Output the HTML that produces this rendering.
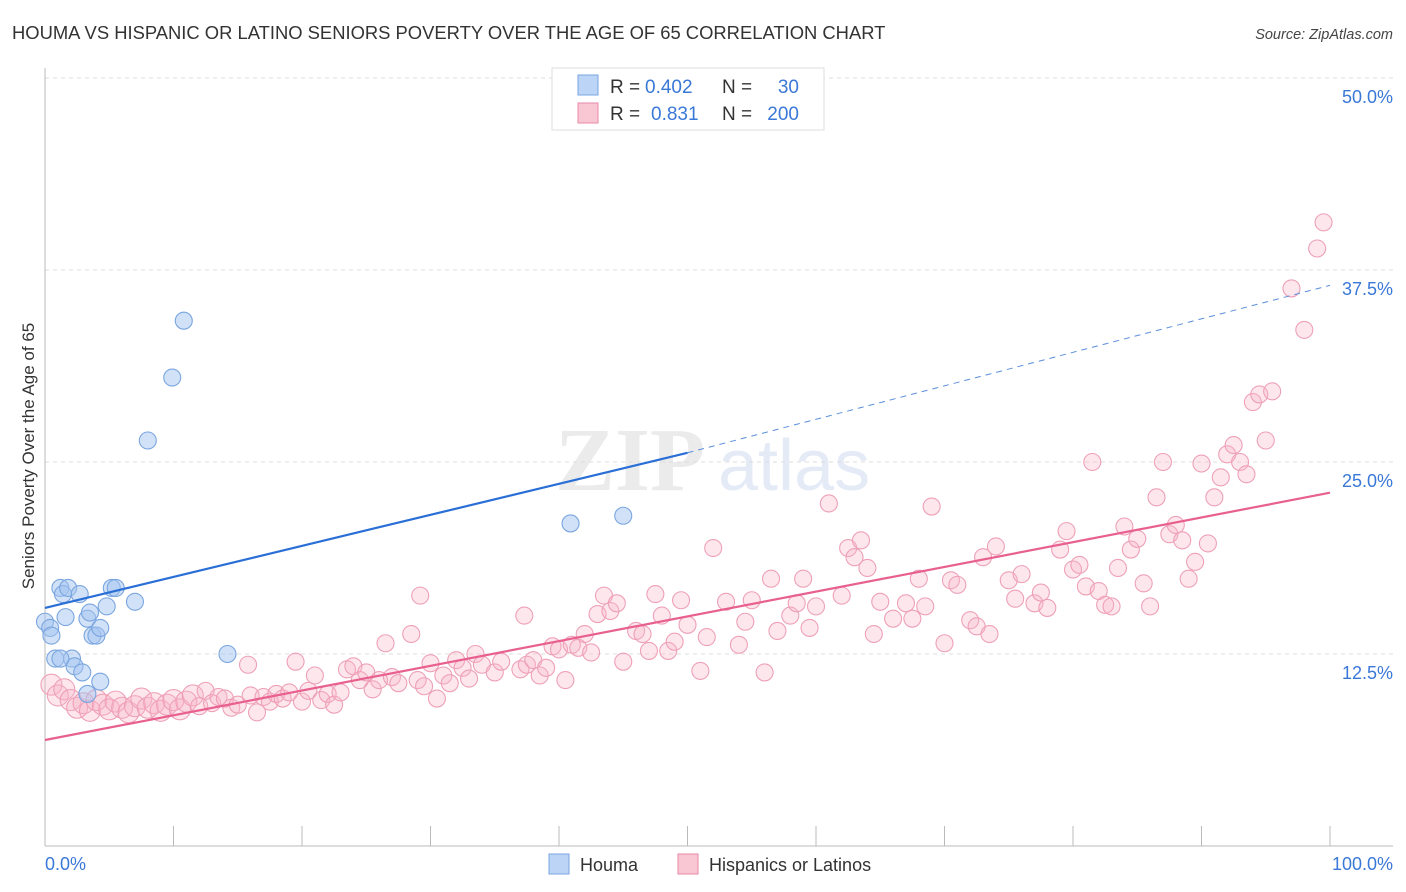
<!DOCTYPE html>
<html><head><meta charset="utf-8"><style>
body{margin:0;background:#fff;font-family:"Liberation Sans",sans-serif;}
svg{display:block}
</style></head><body>
<svg id="chart" width="1406" height="892" xmlns="http://www.w3.org/2000/svg">
<text x="12" y="39" font-size="18.4" fill="#333">HOUMA VS HISPANIC OR LATINO SENIORS POVERTY OVER THE AGE OF 65 CORRELATION CHART</text>
<text x="1393" y="39" font-size="14.5" fill="#444" font-style="italic" text-anchor="end">Source: ZipAtlas.com</text>
<g opacity="0.35">
<text x="555" y="490" font-size="90" fill="#c8c8c8" font-family="Liberation Serif,serif" font-weight="bold">ZIP</text>
<text x="718" y="490" font-size="72" fill="#b5c8e8">atlas</text>
</g>
<g id="grid"></g>
<g id="axes"></g>
<g id="pinkpts"></g>
<g id="bluepts"></g>
<g id="lines"></g>
<text transform="translate(34,456) rotate(-90)" font-size="17" fill="#333" text-anchor="middle">Seniors Poverty Over the Age of 65</text>
<g>
<rect x="552" y="68" width="272" height="62" fill="#fff" stroke="#ddd"/>
<rect x="578" y="75" width="20" height="20" fill="#bcd4f6" stroke="#7aa6e0"/>
<rect x="578" y="103" width="20" height="20" fill="#f9c6d4" stroke="#e88aa8"/>
<text x="610" y="93" font-size="19" fill="#333">R = </text>
<text x="645" y="93" font-size="19" fill="#3a78d8">0.402</text>
<text x="722" y="93" font-size="19" fill="#333">N =</text>
<text x="799" y="93" font-size="19" fill="#3a78d8" text-anchor="end">30</text>
<text x="610" y="120" font-size="19" fill="#333">R = </text>
<text x="651" y="120" font-size="19" fill="#3a78d8">0.831</text>
<text x="722" y="120" font-size="19" fill="#333">N =</text>
<text x="799" y="120" font-size="19" fill="#3a78d8" text-anchor="end">200</text>
</g>
<g>
<rect x="549" y="854" width="20" height="20" fill="#bcd4f6" stroke="#7aa6e0"/>
<text x="580" y="871" font-size="18" fill="#333">Houma</text>
<rect x="678" y="854" width="20" height="20" fill="#f9c6d4" stroke="#e88aa8"/>
<text x="709" y="871" font-size="18" fill="#333">Hispanics or Latinos</text>
</g>
</svg>
<script>
const yTicks=[12.5,25,37.5,50];
const yTickLabels=["12.5%","25.0%","37.5%","50.0%"];
const xTickLabels=["0.0%","100.0%"];
const houmaX=[0,0.4,0.5,0.8,1.2,1.4,1.8,2.1,2.3,2.7,2.9,3.3,3.5,3.7,4.0,4.3,4.3,4.8,5.2,5.5,7.0,8.0,9.9,10.8,14.2,40.9,45.0,1.2,1.6,3.3];
const houmaY=[14.6,14.2,13.7,12.2,16.8,16.4,16.8,12.2,11.7,16.4,11.3,14.8,15.2,13.7,13.7,14.2,10.7,15.6,16.8,16.8,15.9,26.4,30.5,34.2,12.5,21.0,21.5,12.2,14.9,9.9];
const hispX=[0.5,1,1.5,2,2.5,3,3.5,4,4.5,5,5.5,6,6.5,7,7.5,8,8.5,9,9.5,10,10.5,11,11.5,12,12.5,13,13.5,14,14.5,15,15.8,16,16.5,17,17.5,18,18.5,19,19.5,20,20.5,21,21.5,22,22.5,23,23.5,24,24.5,25,25.5,26,26.5,27,27.5,29.2,28.5,29,29.5,30,30.5,31,31.5,32,32.5,33,33.5,34,35,35.5,37.3,37,37.5,38,38.5,39,39.5,40,40.5,41,41.5,42,42.5,43,43.5,44,44.5,45,46,46.5,47,47.5,48,48.5,49,49.5,50,51,51.5,52,53,54,54.5,55,56,56.5,57,58,58.5,59,59.5,60,61,62,62.5,63,63.5,64,64.5,65,66,67,67.5,68,68.5,69,70,70.5,71,72,72.5,73,73.5,74,75,75.5,76,77,77.5,78,79,79.5,80,80.5,81,81.5,82,82.5,83,83.5,84,84.5,85,85.5,86,86.5,87,87.5,88,88.5,89,89.5,90,90.5,91,91.5,92,92.5,93,93.5,94,94.5,95,95.5,97,98,99,99.5];
const hispY=[10.5,9.8,10.2,9.5,9.0,9.3,8.8,9.5,9.2,8.9,9.4,9.0,8.7,9.1,9.6,9.0,9.3,8.8,9.2,9.5,8.9,9.4,9.8,9.1,10.1,9.3,9.7,9.6,9.0,9.2,11.8,9.8,8.7,9.7,9.4,9.9,9.6,10.0,12.0,9.4,10.1,11.1,9.5,9.9,9.2,10.0,11.5,11.7,10.8,11.3,10.2,10.8,13.2,11.0,10.6,16.3,13.8,10.8,10.4,11.9,9.6,11.1,10.6,12.1,11.6,10.9,12.5,11.8,11.3,12.0,15.0,11.5,11.8,12.1,11.1,11.6,13.0,12.8,10.8,13.1,12.9,13.8,12.6,15.1,16.3,15.3,15.8,12.0,14.0,13.8,12.7,16.4,15.0,12.7,13.3,16.0,14.4,11.4,13.6,19.4,15.9,13.1,14.6,16.0,11.3,17.4,14.0,15.0,15.8,17.4,14.2,15.6,22.3,16.3,19.4,18.8,19.9,18.1,13.8,15.9,14.8,15.8,14.8,17.4,15.6,22.1,13.2,17.3,17.0,14.7,14.3,18.8,13.8,19.5,17.3,16.1,17.7,15.8,16.5,15.5,19.3,20.5,18.0,18.3,16.9,25.0,16.6,15.7,15.6,18.1,20.8,19.3,20.0,17.1,15.6,22.7,25.0,20.3,20.9,19.9,17.4,18.5,24.9,19.7,22.7,24.0,25.5,26.1,25.0,24.2,28.9,29.4,26.4,29.6,36.3,33.6,38.9,40.6];
const houmaLine=[[0,15.5],[50,25.6],[100,36.5]];
const hispLine=[[0,6.9],[100,23.0]];
const NS="http://www.w3.org/2000/svg";
const X0=45,X1=1330,Y0=846,Y50=78;
const sx=v=>X0+(X1-X0)*v/100;
const sy=v=>Y0-(Y0-Y50)*v/50;
function mk(tag,attrs,parent){const e=document.createElementNS(NS,tag);for(const k in attrs)e.setAttribute(k,attrs[k]);parent.appendChild(e);return e;}
const grid=document.getElementById('grid'),axes=document.getElementById('axes');
yTicks.forEach((t,i)=>{
 const l=mk('line',{x1:X0,x2:1393,y1:sy(t),y2:sy(t),stroke:'#ddd','stroke-dasharray':'4,4'},grid);
 
 
 const tx=mk('text',{x:1393,y:sy(t)+25,'font-size':18,fill:'#3a78d8','text-anchor':'end'},axes);
 tx.textContent=yTickLabels[i];
 
 
});
const ax=mk('line',{x1:X0,x2:1393,y1:Y0,y2:Y0,stroke:'#bbb'},axes);


const ay=mk('line',{x1:X0,x2:X0,y1:68,y2:Y0,stroke:'#bbb'},axes);


for(let i=1;i<=10;i++){const t=mk('line',{x1:sx(i*10),x2:sx(i*10),y1:Y0-20,y2:Y0,stroke:'#bbb'},axes);
 
 }
const xl0=mk('text',{x:X0,y:870,'font-size':18,fill:'#3a78d8'},axes);xl0.textContent=xTickLabels[0];


const xl1=mk('text',{x:1393,y:870,'font-size':18,fill:'#3a78d8','text-anchor':'end'},axes);xl1.textContent=xTickLabels[1];


const pg=document.getElementById('pinkpts');
hispX.forEach((x,i)=>{const r=x<12?10.5:8.5;const c=mk('circle',{cx:sx(x),cy:sy(hispY[i]),r:r,fill:'rgba(248,180,200,0.32)',stroke:'#eea0b8','stroke-width':1.1},pg);
 
 });
const bg=document.getElementById('bluepts');
houmaX.forEach((x,i)=>{const c=mk('circle',{cx:sx(x),cy:sy(houmaY[i]),r:8.5,fill:'rgba(164,196,240,0.5)',stroke:'#7aa6e0','stroke-width':1.1},bg);
 
 });
const lg=document.getElementById('lines');
const b1=mk('line',{x1:sx(houmaLine[0][0]),y1:sy(houmaLine[0][1]),x2:sx(houmaLine[1][0]),y2:sy(houmaLine[1][1]),stroke:'#2a6fd6','stroke-width':2.2},lg);


const b2=mk('line',{x1:sx(houmaLine[1][0]),y1:sy(houmaLine[1][1]),x2:sx(houmaLine[2][0]),y2:sy(houmaLine[2][1]),stroke:'#5b8fdc','stroke-width':1,'stroke-dasharray':'6,5'},lg);


const p1=mk('line',{x1:sx(hispLine[0][0]),y1:sy(hispLine[0][1]),x2:sx(hispLine[1][0]),y2:sy(hispLine[1][1]),stroke:'#e8608f','stroke-width':2.2},lg);


</script>
</body></html>
